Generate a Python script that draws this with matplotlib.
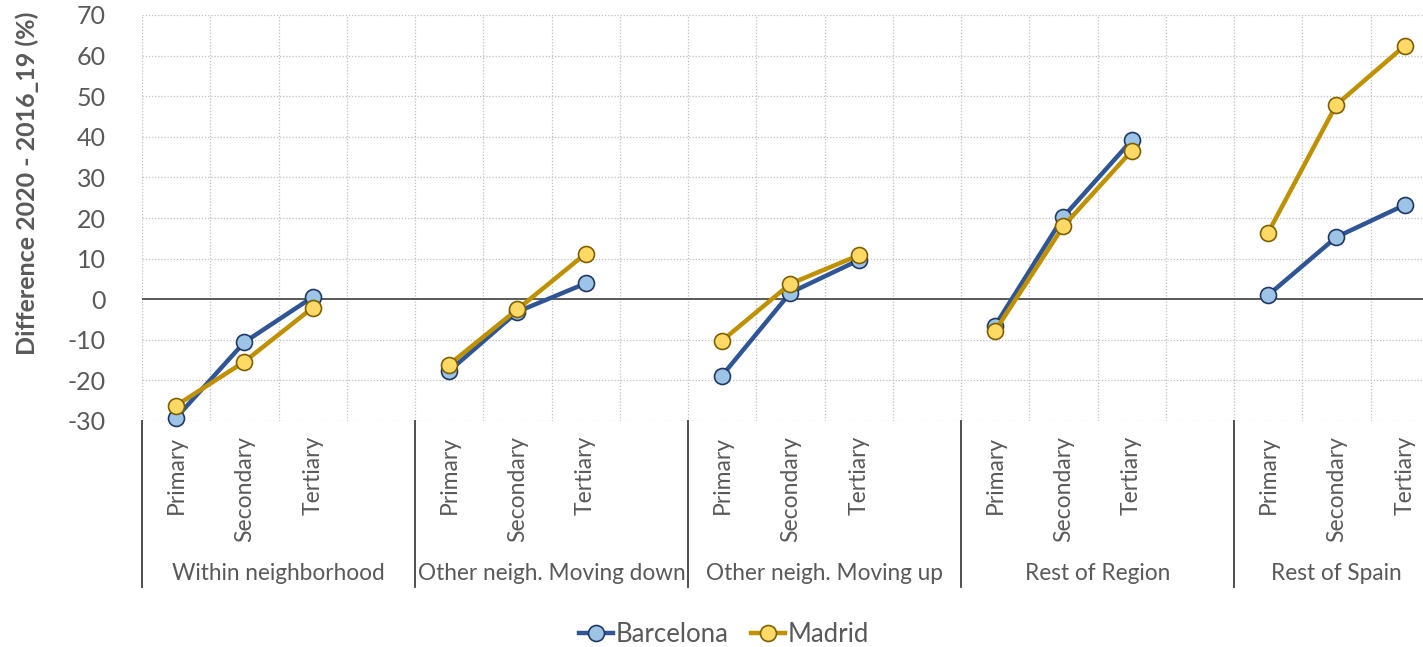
import matplotlib
matplotlib.use("Agg")
import matplotlib.pyplot as plt
import matplotlib.transforms as mtransforms
from matplotlib.lines import Line2D
import numpy as np

plt.rcParams['font.family'] = ['Lato', 'DejaVu Sans']

groups = ["Within neighborhood", "Other neigh. Moving down", "Other neigh. Moving up",
          "Rest of Region", "Rest of Spain"]
levels = ["Primary", "Secondary", "Tertiary"]
barcelona = [-29.2, -10.6, 0.5, -17.7, -3.1, 3.9, -18.8, 1.6, 9.6,
             -6.5, 20.3, 39.1, 1.0, 15.3, 23.2]
madrid = [-26.2, -15.4, -2.1, -16.1, -2.5, 11.2, -10.2, 3.8, 10.8,
          -7.8, 18.0, 36.5, 16.4, 47.9, 62.4]
yticks = list(range(-30, 71, 10))

W, H = 1423, 647
fig = plt.figure(figsize=(W / 100, H / 100), dpi=100)
L, R, T, B = 142, 1423, 15, 421
ax = fig.add_axes([L / W, 1 - B / H, (R - L) / W, (B - T) / H])

slot = 68.25
xmax = (R - L) / slot
ax.set_xlim(0, xmax)
ax.set_ylim(-30, 70)

nslots = 4 * len(groups)
def to_slots(vals):
    arr = np.full(nslots, np.nan)
    for g in range(len(groups)):
        for j in range(len(levels)):
            arr[g * 4 + j] = vals[g * len(levels) + j]
    return arr

xs = np.arange(nslots) + 0.5
gray = '#595959'
grid_c = '#BFBFBF'

# grid
for y in yticks:
    if y != 0:
        ax.axhline(y, color=grid_c, lw=0.9, ls=(0, (1, 1.5)), zorder=0)
for i in range(nslots + 1):
    if i <= xmax:
        ax.axvline(i, color=grid_c, lw=0.9, ls=(0, (1, 1.5)), zorder=0)
ax.axhline(0, color=gray, lw=1.4, zorder=1)

series = [
    ("Barcelona", barcelona, '#2F5597', '#9DC3E6', '#1F3864'),
    ("Madrid", madrid, '#BF9000', '#FFD966', '#7F6000'),
]
handles = []
for name, vals, lc, fc, ec in series:
    ax.plot(xs, to_slots(vals), color=lc, lw=3.2, marker='o', ms=11.5,
            mfc=fc, mec=ec, mew=1.2, zorder=3, clip_on=False)
    handles.append(Line2D([], [], color=lc, lw=3.2, marker='o', ms=11.5,
                          mfc=fc, mec=ec, mew=1.2))

for s in ax.spines.values():
    s.set_visible(False)
ax.set_xticks([])
ax.set_yticks(yticks)
ax.set_yticklabels([str(v) for v in yticks], fontsize=18, color=gray)
ax.tick_params(axis='y', length=0, pad=26)

trans = mtransforms.blended_transform_factory(ax.transData, fig.transFigure)
def fy(py):
    return 1 - py / H

fig.text(27 / W, fy(183), "Difference 2020 - 2016_19 (%)", rotation=90,
         ha='center', va='center', fontsize=18, fontweight='bold', color=gray)

for g, gname in enumerate(groups):
    for j, lev in enumerate(levels):
        ax.text(g * 4 + j + 0.5, fy(436), lev, transform=trans, rotation=90,
                ha='center', va='top', fontsize=16.5, color=gray)
    xc = g * 4 + 2 if g < len(groups) - 1 else g * 4 + 1.5
    ax.text(xc, fy(573), gname, transform=trans, ha='center', va='center',
            fontsize=16.3, color=gray)
    ax.plot([g * 4, g * 4], [fy(B), fy(587)], transform=trans, color='#404040',
            lw=1.3, clip_on=False)

fig.legend(handles, [s[0] for s in series], loc='center',
           bbox_to_anchor=(724 / W, 1 - 634 / H), ncol=2, frameon=False,
           fontsize=18.5, handlelength=1.3, handletextpad=0.1, columnspacing=0.9,
           labelcolor=gray)

fig.savefig("out.png", dpi=100)
